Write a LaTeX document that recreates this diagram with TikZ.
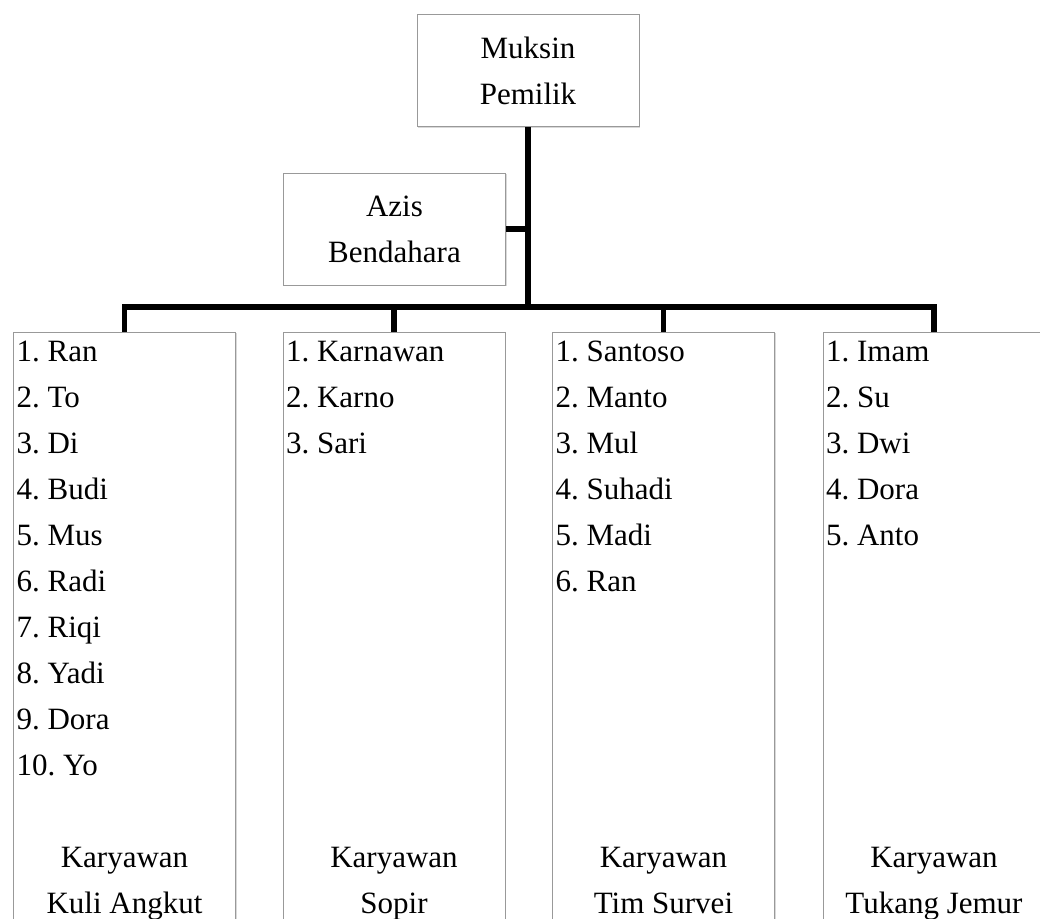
\documentclass[tikz,border=0pt]{standalone}
\usepackage{fontspec}
\setmainfont{Liberation Serif}
\usetikzlibrary{positioning,shadows}
\frenchspacing

\begin{document}
\begin{tikzpicture}[x=0.5pt,y=-0.5pt,line width=2.6pt,
    font=\fontsize{15.5}{23}\selectfont,
    box/.style={draw=gray!80,line width=0.5pt,fill=white,align=center,
      minimum width=111pt,minimum height=56pt,inner sep=0pt,
      drop shadow={shadow xshift=0.7pt,shadow yshift=-0.7pt,opacity=0.3}},
    colbox/.style={box,minimum height=306.5pt},
    names/.style={align=left,anchor=north west,inner sep=0pt},
    role/.style={align=center,anchor=north,inner sep=0pt}]
      \useasboundingbox (0,0) rectangle (1040,918);
      \clip (0,0) rectangle (1040,918);

      \node [box] (muksin) at (528,70.5) {Muksin\\Pemilik};
      \node [box] (azis) at (394.5,229) {Azis\\Bendahara};

      \node [colbox] (col1) at (124.5,638.5) {};
      \node [colbox] (col2) at (394,638.5) {};
      \node [colbox] (col3) at (663.5,638.5) {};
      \node [colbox] (col4) at (934,638.5) {};

      \coordinate (hub) at (528,307);
      \draw (muksin.south) -- (hub);
      \draw (azis.east) -- (azis.east -| hub);
      \draw (col1.north) |- (hub) -| (col4.north);
      \draw (col2.north) -- (col2.north |- hub);
      \draw (col3.north) -- (col3.north |- hub);

      \node [names] (list1) at ([xshift=0.5pt,yshift=-3.5pt]col1.north west) {%
        1. Ran\\2. To\\3. Di\\4. Budi\\5. Mus\\6. Radi\\7. Riqi\\8. Yadi\\9. Dora\\10. Yo
      };
      \node [names] (list2) at ([xshift=0.5pt,yshift=-3.5pt]col2.north west) {%
        1. Karnawan\\2. Karno\\3. Sari
      };
      \node [names] (list3) at ([xshift=0.5pt,yshift=-3.5pt]col3.north west) {%
        1. Santoso\\2. Manto\\3. Mul\\4. Suhadi\\5. Madi\\6. Ran
      };
      \node [names] (list4) at ([xshift=0.5pt,yshift=-3.5pt]col4.north west) {%
        1. Imam\\2. Su\\3. Dwi\\4. Dora\\5. Anto
      };

      \node [role] (role1) at (124.5,845) {Karyawan\\Kuli Angkut};
      \node [role] (role2) at (394,845) {Karyawan\\Sopir};
      \node [role] (role3) at (663.5,845) {Karyawan\\Tim Survei};
      \node [role] (role4) at (934,845) {Karyawan\\Tukang Jemur};
    \end{tikzpicture}
\end{document}
